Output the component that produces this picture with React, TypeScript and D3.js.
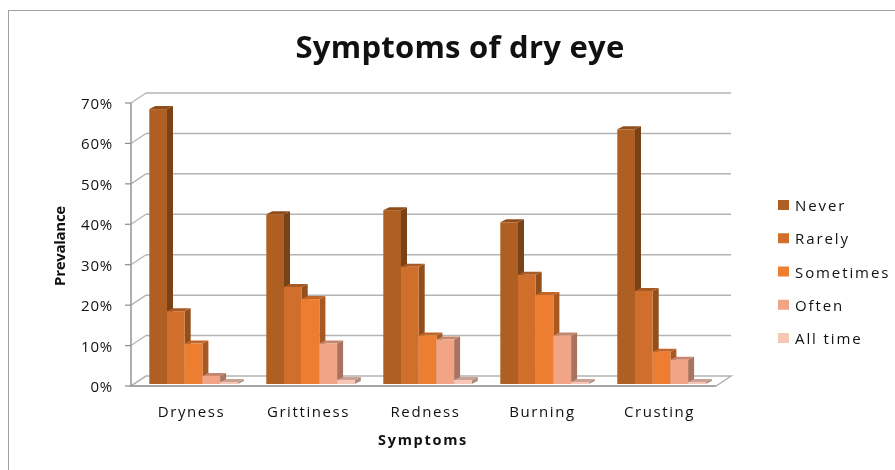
import React, { useEffect, useRef } from 'react';
import * as d3 from 'd3';

const categories = ['Dryness', 'Grittiness', 'Redness', 'Burning', 'Crusting'];
const seriesNames = ['Never', 'Rarely', 'Sometimes', 'Often', 'All time'];
const never = [68, 42, 43, 40, 63];
const rarely = [18, 24, 29, 27, 23];
const sometimes = [10, 21, 12, 22, 8];
const often = [2, 10, 11, 12, 6];
const allTime = [0.5, 1, 1, 0.5, 0.5];
const seriesValues = [never, rarely, sometimes, often, allTime];
const yTicks = [0, 10, 20, 30, 40, 50, 60, 70];

const frontColors = ['#b05f22', '#d06f2b', '#ed7d31', '#f2a486', '#f6c7b6'];
const sideColors = ['#7a4217', '#924f1c', '#a85822', '#aa7360', '#ad8c80'];
const topColors = ['#8f4d1b', '#a95a22', '#c26628', '#c6866e', '#c9a294'];

const FONT = '"Open Sans", sans-serif';
const wallDx = 15;
const wallDy = -10;
const barDx = 6;
const barDy = -3;

export default function App() {
  const ref = useRef<SVGSVGElement>(null);

  useEffect(() => {
    const svg = d3.select(ref.current);
    svg.selectAll('*').remove();

    svg.append('rect')
      .attr('x', 8.5).attr('y', 10.5)
      .attr('width', 900).attr('height', 470)
      .attr('fill', '#fff').attr('stroke', '#a0a0a0');

    const x0 = d3.scaleBand().domain(categories).range([131, 716]);
    const x1 = d3.scaleBand<number>().domain(d3.range(5)).range([18.3, 106.8]);
    const yAxis = d3.scaleLinear().domain([0, 70]).range([386, 103]);
    const yBar = d3.scaleLinear().domain([0, 70]).range([384, 101]);

    // walls and floor
    const gridColor = '#b4b4b4';
    const floorPts = [
      [x0.range()[0], yAxis(0)],
      [x0.range()[1], yAxis(0)],
      [x0.range()[1] + wallDx, yAxis(0) + wallDy],
      [x0.range()[0] + wallDx, yAxis(0) + wallDy],
    ];
    svg.append('polygon')
      .attr('points', floorPts.map(p => p.join(',')).join(' '))
      .attr('fill', '#fff')
      .attr('stroke', gridColor).attr('stroke-width', 1.5);

    yTicks.forEach(t => {
      const y = yAxis(t);
      if (t > 0) {
        svg.append('line')
          .attr('x1', 131 + wallDx).attr('x2', 716 + wallDx)
          .attr('y1', y + wallDy).attr('y2', y + wallDy)
          .attr('stroke', gridColor).attr('stroke-width', 1.5);
      }
      svg.append('line')
        .attr('x1', 125).attr('x2', 131)
        .attr('y1', y).attr('y2', y)
        .attr('stroke', '#8c8c8c').attr('stroke-width', 1.2);
      svg.append('line')
        .attr('x1', 131).attr('x2', 131 + wallDx)
        .attr('y1', y).attr('y2', y + wallDy)
        .attr('stroke', gridColor).attr('stroke-width', 1.3);
      svg.append('text')
        .attr('x', 113).attr('y', y + 6)
        .attr('text-anchor', 'end')
        .attr('font-family', FONT).attr('font-size', 15)
        .attr('letter-spacing', 0.8)
        .attr('fill', '#111')
        .text(t + '%');
    });

    svg.append('line')
      .attr('x1', 131).attr('x2', 131)
      .attr('y1', yAxis(70)).attr('y2', yAxis(0))
      .attr('stroke', '#9a9a9a').attr('stroke-width', 1.6);
    svg.append('line')
      .attr('x1', 131).attr('x2', 716)
      .attr('y1', yAxis(0)).attr('y2', yAxis(0))
      .attr('stroke', '#9a9a9a').attr('stroke-width', 1.6);

    // bars
    categories.forEach((cat, c) => {
      const g = svg.append('g').attr('transform', 'translate(' + x0(cat) + ',0)');
      seriesValues.forEach((vals, s) => {
        const x = x1(s) as number;
        const w = x1.bandwidth();
        const top = yBar(vals[c]);
        const base = yBar(0);
        g.append('polygon')
          .attr('points', [
            [x + w, top], [x + w + barDx, top + barDy],
            [x + w + barDx, base + barDy], [x + w, base],
          ].map(p => p.join(',')).join(' '))
          .attr('fill', sideColors[s]);
        g.append('polygon')
          .attr('points', [
            [x, top], [x + barDx, top + barDy],
            [x + w + barDx, top + barDy], [x + w, top],
          ].map(p => p.join(',')).join(' '))
          .attr('fill', topColors[s]);
        g.append('rect')
          .attr('x', x).attr('y', top)
          .attr('width', w).attr('height', base - top)
          .attr('fill', frontColors[s]);
      });
      svg.append('text')
        .attr('x', (x0(cat) as number) + x0.bandwidth() / 2 + 2)
        .attr('y', 417)
        .attr('text-anchor', 'middle')
        .attr('font-family', FONT).attr('font-size', 15)
        .attr('letter-spacing', 1.6)
        .attr('fill', '#111')
        .text(cat);
    });

    svg.append('text')
      .attr('x', 460).attr('y', 57.5)
      .attr('text-anchor', 'middle')
      .attr('font-family', FONT).attr('font-weight', 700).attr('font-size', 31)
      .attr('letter-spacing', 0.25)
      .attr('fill', '#111')
      .text('Symptoms of dry eye');

    svg.append('text')
      .attr('x', 423).attr('y', 445)
      .attr('text-anchor', 'middle')
      .attr('font-family', FONT).attr('font-weight', 700).attr('font-size', 14.5)
      .attr('letter-spacing', 1.7)
      .attr('fill', '#111')
      .text('Symptoms');

    svg.append('text')
      .attr('transform', 'translate(65,246) rotate(-90)')
      .attr('text-anchor', 'middle')
      .attr('font-family', FONT).attr('font-weight', 700).attr('font-size', 15)
      .attr('letter-spacing', -0.3)
      .attr('fill', '#111')
      .text('Prevalance');

    // legend
    const legendY = d3.scalePoint().domain(seriesNames).range([205, 338]);
    seriesNames.forEach((name, s) => {
      const y = legendY(name) as number;
      svg.append('rect')
        .attr('x', 778).attr('y', y - 5)
        .attr('width', 11).attr('height', 10)
        .attr('fill', frontColors[s]);
      svg.append('text')
        .attr('x', 795).attr('y', y + 6)
        .attr('font-family', FONT).attr('font-size', 15)
        .attr('letter-spacing', 1.9)
        .attr('fill', '#111')
        .text(name);
    });
  }, []);

  return <svg ref={ref} width={895} height={470} style={{ position: 'absolute', left: 0, top: 0, filter: 'blur(0.4px)' }} />;
}
